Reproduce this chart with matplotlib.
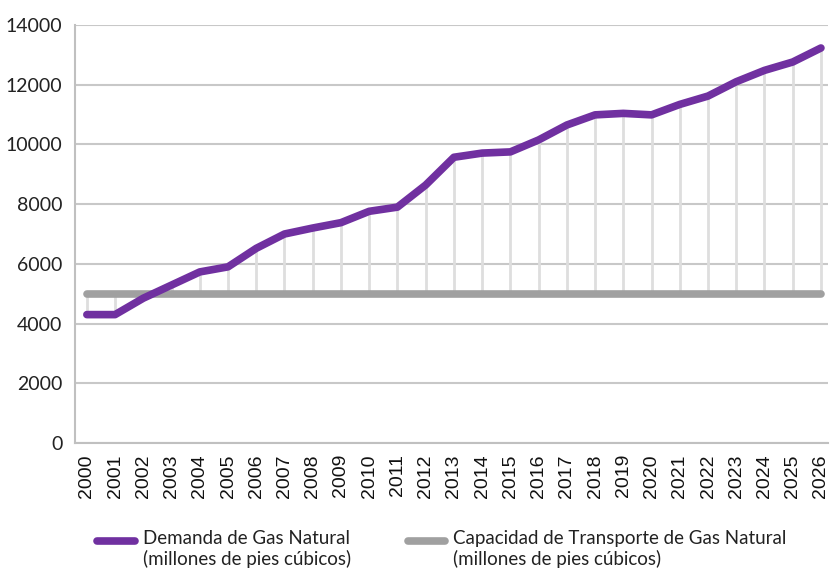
import matplotlib
matplotlib.use("Agg")
import matplotlib.pyplot as plt
from matplotlib.lines import Line2D
import numpy as np

YEARS = [str(y) for y in range(2000, 2027)]
DEMANDA = [4300, 4300, 4850, 5290, 5730, 5900, 6520, 7000, 7200, 7380, 7760, 7900,
           8640, 9570, 9710, 9750, 10150, 10650, 10990, 11040, 10990, 11340, 11620,
           12100, 12480, 12760, 13230]
CAPACIDAD = [5000] * len(YEARS)
Y_TICKS = [0, 2000, 4000, 6000, 8000, 10000, 12000, 14000]

LABEL_DEM = "Demanda de Gas Natural\n(millones de pies cúbicos)"
LABEL_CAP = "Capacidad de Transporte de Gas Natural\n(millones de pies cúbicos)"

PURPLE = "#7030A0"
GREY = "#A0A0A0"

W, H = 830, 574
fig = plt.figure(figsize=(W / 100, H / 100), dpi=100)
ax = fig.add_axes([75 / W, 131 / H, 753 / W, 418 / H])

x = np.arange(len(YEARS))
dem = np.array(DEMANDA)
cap = np.array(CAPACIDAD)

# high-low lines between the two series
ax.vlines(x, np.minimum(dem, cap), np.maximum(dem, cap), color="#dedede", linewidth=2, zorder=1)

ax.plot(x, cap, color=GREY, linewidth=5.5, solid_capstyle="round", zorder=3)
ax.plot(x, dem, color=PURPLE, linewidth=5.5, solid_capstyle="round", solid_joinstyle="round", zorder=4)

ax.set_xlim(-0.42, 26.25)
ax.set_ylim(0, 14000)
ax.set_yticks(Y_TICKS)
ax.set_yticklabels([str(v) for v in Y_TICKS], fontfamily="Lato", fontsize=14, color="#222222")
ax.set_xticks(x)
ax.set_xticklabels(YEARS, rotation=90, fontfamily="Liberation Sans", fontsize=14, color="#111111")
ax.tick_params(length=0)
ax.tick_params(axis="y", pad=9)
ax.tick_params(axis="x", pad=8)

ax.grid(axis="y", color="#c8c8c8", linewidth=1.5, zorder=0)
ax.set_axisbelow(True)
for s in ["top", "right"]:
    ax.spines[s].set_visible(False)
for s in ["left", "bottom"]:
    ax.spines[s].set_color("#c0c0c0")
    ax.spines[s].set_linewidth(1.5)

# legend drawn by hand so the swatch sits on the first text line
for (x0, x1, tx), color, label in [((97, 135, 143), PURPLE, LABEL_DEM),
                                    ((408, 445, 453), GREY, LABEL_CAP)]:
    fig.add_artist(Line2D([x0 / W, x1 / W], [1 - 541 / H] * 2, color=color, linewidth=5.5,
                          solid_capstyle="round", transform=fig.transFigure))
    fig.text(tx / W, 1 - 530 / H, label, ha="left", va="top", fontfamily="Lato", fontsize=13.5,
             color="#222222", linespacing=1.2)

fig.savefig("out.png", dpi=100)
